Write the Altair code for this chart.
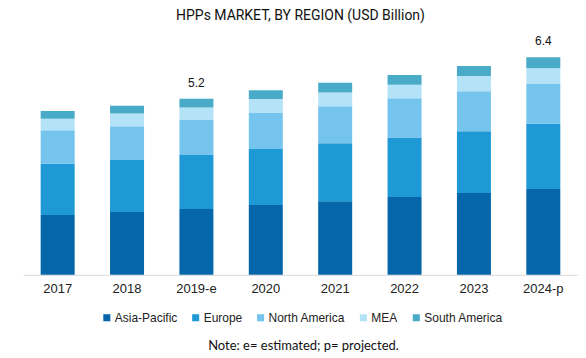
import altair as alt
import pandas as pd

years = ["2017", "2018", "2019-e", "2020", "2021", "2022", "2023", "2024-p"]
regions = ["Asia-Pacific", "Europe", "North America", "MEA", "South America"]
asia_pacific = [1.76, 1.85, 1.94, 2.06, 2.17, 2.29, 2.41, 2.53]
europe = [1.51, 1.53, 1.59, 1.65, 1.71, 1.76, 1.82, 1.92]
north_america = [0.99, 1.00, 1.03, 1.06, 1.09, 1.15, 1.18, 1.19]
mea = [0.34, 0.37, 0.37, 0.41, 0.40, 0.40, 0.45, 0.45]
south_america = [0.23, 0.23, 0.26, 0.26, 0.29, 0.29, 0.29, 0.32]
labelled_years = ["2019-e", "2024-p"]
colors = ["#0567A9", "#1F99D6", "#74C4EE", "#B4E3F8", "#4AABC8"]

series = [asia_pacific, europe, north_america, mea, south_america]
rows = []
for ri, (name, vals) in enumerate(zip(regions, series)):
    for y, v in zip(years, vals):
        rows.append({"year": y, "region": name, "value": v, "order": ri})
df = pd.DataFrame(rows)

x_enc = alt.X("year:N", sort=years, title=None,
              scale=alt.Scale(paddingInner=0.51, paddingOuter=0.255),
              axis=alt.Axis(labelAngle=0, ticks=False, domainColor="#d9d9d9",
                            labelFont="Liberation Sans", labelFontSize=13,
                            labelColor="#222222", labelPadding=8))

bars = alt.Chart(df).mark_bar().encode(
    x=x_enc,
    y=alt.Y("value:Q", stack="zero", title=None, axis=None,
            scale=alt.Scale(domain=[0, 7], nice=False)),
    color=alt.Color("region:N", sort=regions,
                    scale=alt.Scale(domain=regions, range=colors),
                    legend=alt.Legend(title=None, orient="none", direction="horizontal",
                                      legendX=78, legendY=275, symbolType="square",
                                      symbolSize=50, symbolStrokeWidth=0,
                                      labelFont="Liberation Sans", labelFontSize=12,
                                      labelColor="#222222", columnPadding=12,
                                      labelOffset=2)),
    order=alt.Order("order:Q", sort="ascending"),
)

labels = alt.Chart(df).transform_aggregate(
    total="sum(value)", groupby=["year"]
).transform_filter(
    alt.FieldOneOfPredicate(field="year", oneOf=labelled_years)
).mark_text(baseline="bottom", dy=-9, font="Liberation Sans", fontSize=12,
            color="#111111").encode(
    x=alt.X("year:N", sort=years),
    y=alt.Y("total:Q"),
    text=alt.Text("total:Q", format=".1f"),
)

note = alt.Chart(pd.DataFrame({"t": ["Note: e= estimated; p= projected."]})).mark_text(
    font="Lato", fontSize=13, color="#111111", baseline="middle", align="center"
).encode(text="t:N", x=alt.value(281), y=alt.value(309))

chart = alt.layer(bars, labels, note).properties(
    width=556, height=238,
    padding={"left": 15, "top": 1, "right": 0, "bottom": 0},
    title=alt.TitleParams("HPPs MARKET, BY REGION (USD Billion)", font="Roboto",
                          fontSize=14, fontWeight="normal", color="#111111",
                          offset=12, anchor="middle"),
).configure_view(stroke=None)

chart.save("out.html", embed_options={"renderer": "svg", "actions": False})
